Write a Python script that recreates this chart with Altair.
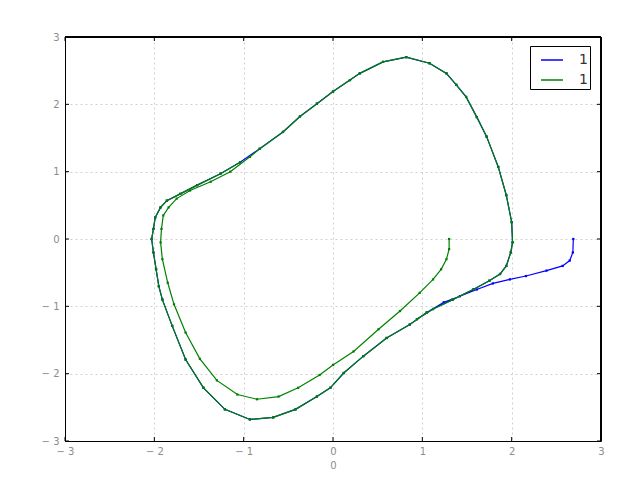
import altair as alt
import pandas as pd

# ---- values ----
# blue: approach from the outside start point (2.69, 0) to the cycle
blue_tail_x = [2.69, 2.685, 2.65, 2.57, 2.39, 2.16, 1.98, 1.79, 1.61, 1.42, 1.24]
blue_tail_y = [0.00, -0.20, -0.32, -0.40, -0.47, -0.55, -0.60, -0.66, -0.75, -0.85, -0.94]

# limit cycle as read (lower right -> bottom -> left -> top -> right)
cycle_x = [1.05, 0.86, 0.60, 0.34, 0.12, -0.03, -0.18, -0.42, -0.67, -0.93, -1.21, -1.45,
           -1.65, -1.80, -1.91, -1.95, -1.98, -2.01, -2.03, -2.01, -1.99, -1.93, -1.86, -1.71,
           -1.52, -1.26, -1.04, -0.82, -0.56, -0.37, -0.18, 0.00, 0.19, 0.30, 0.56, 0.82,
           1.08, 1.27, 1.38, 1.49, 1.61, 1.72, 1.85, 1.94, 2.00, 2.01, 1.99, 1.94, 1.87,
           1.75, 1.57, 1.34, 1.12, 0.94]
cycle_y = [-1.09, -1.27, -1.47, -1.74, -1.99, -2.21, -2.34, -2.53, -2.65, -2.68, -2.53, -2.21,
           -1.79, -1.29, -0.90, -0.70, -0.45, -0.20, 0.00, 0.15, 0.32, 0.47, 0.57, 0.67,
           0.80, 0.97, 1.14, 1.34, 1.59, 1.82, 2.01, 2.19, 2.36, 2.46, 2.63, 2.70,
           2.61, 2.46, 2.29, 2.11, 1.81, 1.52, 1.07, 0.65, 0.25, -0.05, -0.20, -0.40, -0.52,
           -0.62, -0.75, -0.90, -1.04, -1.19]

# green: inner start point (1.30, 0) spiralling out to the cycle
green_in_x = [1.30, 1.30, 1.27, 1.21, 1.12, 0.97, 0.75, 0.51, 0.23, 0.00, -0.15, -0.39,
              -0.61, -0.85, -1.07, -1.30, -1.49, -1.65, -1.78, -1.85, -1.91, -1.93, -1.92,
              -1.90, -1.84, -1.75, -1.60, -1.37, -1.15, -0.93]
green_in_y = [0.00, -0.15, -0.30, -0.45, -0.60, -0.80, -1.07, -1.34, -1.67, -1.87, -2.02, -2.21,
              -2.34, -2.38, -2.31, -2.10, -1.78, -1.39, -0.97, -0.65, -0.30, -0.05, 0.15,
              0.35, 0.47, 0.60, 0.72, 0.85, 1.00, 1.22]

tick_values = [-3, -2, -1, 0, 1, 2, 3]
series_keys = ["a", "b"]
series_labels = ["1", "1"]
series_colors = ["#0000ff", "#008000"]

# ---- build the table ----
blue_x = blue_tail_x + cycle_x
blue_y = blue_tail_y + cycle_y
k = cycle_x.index(-0.82)
green_x = green_in_x + cycle_x[k:] + cycle_x[:k]
green_y = green_in_y + cycle_y[k:] + cycle_y[:k]

rows = []
for i, (x, y) in enumerate(zip(blue_x, blue_y)):
    rows.append({"x": x, "y": y, "s": "a", "i": i})
for i, (x, y) in enumerate(zip(green_x, green_y)):
    rows.append({"x": x, "y": y, "s": "b", "i": i})
df = pd.DataFrame(rows)
ticks_df = pd.DataFrame({"x": tick_values, "y": tick_values})

W, H = 536, 404
FONT = "DejaVu Sans"
xs = alt.Scale(domain=[-3, 3], nice=False, zero=False)
ys = alt.Scale(domain=[-3, 3], nice=False, zero=False)
minus_expr = "datum.value < 0 ? '\u2212 ' + abs(datum.value) : '' + datum.value"

x_axis = alt.Axis(values=tick_values, title="0", grid=True, gridDash=[2, 3],
                  gridColor="#d0d0d0", ticks=False, domainColor="black", labelFlush=False,
                  labelColor="#8c8c8c", labelFontSize=10, labelFont=FONT, labelPadding=5,
                  titleFont=FONT, titleFontSize=10, titleFontWeight="normal",
                  titleColor="#8c8c8c", titlePadding=4, labelExpr=minus_expr)
y_axis = alt.Axis(values=tick_values, title=None, grid=True, gridDash=[2, 3],
                  gridColor="#d0d0d0", ticks=False, domainColor="black", labelFlush=False,
                  labelColor="#8c8c8c", labelFontSize=10, labelFont=FONT, labelPadding=6,
                  labelExpr=minus_expr)

color = alt.Color(
    "s:N",
    scale=alt.Scale(domain=series_keys, range=series_colors),
    legend=alt.Legend(title=None, orient="none", legendX=465, legendY=9,
                      labelExpr="(datum.value == 'a' ? '" + series_labels[0] + "' : '" + series_labels[1] + "') + '\u00a0\u00a0\u00a0\u00a0'",
                      symbolType="stroke", symbolSize=484, symbolStrokeWidth=1.5,
                      symbolOffset=8,
                      strokeColor="black", fillColor="white", padding=2, rowPadding=1,
                      labelFontSize=14, labelFont=FONT, labelColor="#333333", labelOffset=15),
)

base = alt.Chart(df)

def traj(key):
    return base.transform_filter(alt.datum.s == key).mark_line(
        strokeWidth=1.2, point=alt.OverlayMarkDef(size=5, filled=True, shape="square")
    ).encode(
        x=alt.X("x:Q", scale=xs, axis=x_axis),
        y=alt.Y("y:Q", scale=ys, axis=y_axis),
        color=color,
        order=alt.Order("i:Q"),
    )

tb = alt.Chart(ticks_df)
tick_bottom = tb.mark_rule(color="black").encode(
    x=alt.X("x:Q", scale=xs, axis=x_axis), y=alt.value(H - 4), y2=alt.value(H))
tick_top = tb.mark_rule(color="black").encode(
    x=alt.X("x:Q", scale=xs, axis=x_axis), y=alt.value(0), y2=alt.value(4))
tick_left = tb.mark_rule(color="black").encode(
    y=alt.Y("y:Q", scale=ys, axis=y_axis), x=alt.value(0), x2=alt.value(4))
tick_right = tb.mark_rule(color="black").encode(
    y=alt.Y("y:Q", scale=ys, axis=y_axis), x=alt.value(W - 4), x2=alt.value(W))
# frame edges drawn above the grid
frame_top = tb.mark_rule(color="black").encode(
    x=alt.value(0), x2=alt.value(W), y=alt.value(0))
frame_right = tb.mark_rule(color="black").encode(
    x=alt.value(W), y=alt.value(0), y2=alt.value(H))

chart = alt.layer(
    traj("a"), traj("b"), tick_bottom, tick_top, tick_left, tick_right, frame_top, frame_right
).properties(
    width=W, height=H,
    autosize=alt.AutoSizeParams(type="none"),
    padding={"left": 57, "top": 29, "right": 31, "bottom": 31},
    background="white",
).configure_view(stroke="black", strokeWidth=1)

chart.save("out.html", embed_options={"renderer": "svg", "actions": False})
